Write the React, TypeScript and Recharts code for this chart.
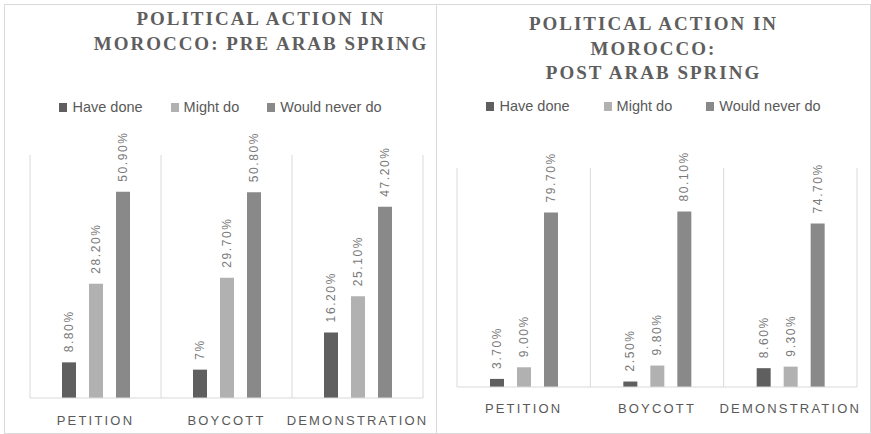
import React from 'react';
import { BarChart, Bar, XAxis, YAxis, CartesianGrid, LabelList } from 'recharts';

const actions = ['PETITION', 'BOYCOTT', 'DEMONSTRATION'];
const seriesNames = ['Have done', 'Might do', 'Would never do'];
const seriesColors = ['#5f5f5f', '#b1b1b1', '#898989'];

// shares in percent, kept as printed so the bar labels read the same
const preHaveDone = ['8.80', '7', '16.20'];
const preMightDo = ['28.20', '29.70', '25.10'];
const preNeverDo = ['50.90', '50.80', '47.20'];

const postHaveDone = ['3.70', '2.50', '8.60'];
const postMightDo = ['9.00', '9.80', '9.30'];
const postNeverDo = ['79.70', '80.10', '74.70'];

const seriesKeys = ['have', 'might', 'never'];

const buildRows = (have: string[], might: string[], never: string[]) =>
  actions.map((action, i) => ({
    action,
    have: Number(have[i]),
    might: Number(might[i]),
    never: Number(never[i]),
    haveLabel: `${have[i]}%`,
    mightLabel: `${might[i]}%`,
    neverLabel: `${never[i]}%`,
  }));

const preRows = buildRows(preHaveDone, preMightDo, preNeverDo);
const postRows = buildRows(postHaveDone, postMightDo, postNeverDo);

const TEXT = '#595959';
const LINE = '#d9d9d9';
const SANS = '"Liberation Sans", Arial, sans-serif';
const SERIF = '"Liberation Serif", "Times New Roman", serif';

const RotatedLabel = (props: any) => {
  const { x, y, width, value } = props;
  const cx = Number(x) + Number(width) / 2;
  const top = Number(y) - 10;
  return (
    <text
      transform={`translate(${cx},${top}) rotate(-90)`}
      textAnchor="start"
      dominantBaseline="central"
      fill="#7a7a7a"
      fontSize={12}
      letterSpacing={1.6}
      fontFamily={SANS}
    >
      {value}
    </text>
  );
};

const ActionTick = (props: any) => {
  const { x, y, payload, drop } = props;
  return (
    <text
      x={x}
      y={Number(y) + drop}
      textAnchor="middle"
      dominantBaseline="central"
      fill={TEXT}
      fontSize={13}
      letterSpacing={2.2}
      fontFamily={SANS}
    >
      {payload.value}
    </text>
  );
};

// one vertical rule on each side of every category band
const bandEdges = ({ offset }: any) => {
  const out: number[] = [];
  for (let i = 0; i <= actions.length; i++) {
    out.push(offset.left + (offset.width * i) / actions.length);
  }
  return out;
};

interface PanelProps {
  left: number;
  width: number;
  titleLines: string[];
  titleTop: number;
  titleShift: number;
  legendTop: number;
  legendGap: number;
  rows: ReturnType<typeof buildRows>;
  yMax: number;
  margin: { top: number; left: number; right: number };
  axisHeight: number;
  tickDrop: number;
}

const Panel: React.FC<PanelProps> = ({
  left, width, titleLines, titleTop, titleShift, legendTop, legendGap,
  rows, yMax, margin, axisHeight, tickDrop,
}) => {
  const innerW = width - 2;
  const innerH = 428;
  return (
    <div
      style={{
        position: 'absolute',
        left,
        top: 4,
        width,
        height: 430,
        boxSizing: 'border-box',
        border: `1px solid ${LINE}`,
        background: '#fff',
      }}
    >
      <BarChart
        width={innerW}
        height={innerH}
        data={rows}
        margin={{ ...margin, bottom: 0 }}
        barSize={14}
        barGap={13}
      >
        <CartesianGrid horizontal={false} stroke={LINE} verticalCoordinatesGenerator={bandEdges} />
        <XAxis
          dataKey="action"
          height={axisHeight}
          interval={0}
          tickLine={false}
          tickSize={0}
          tickMargin={0}
          axisLine={{ stroke: LINE }}
          tick={(p: any) => <ActionTick {...p} drop={tickDrop} />}
        />
        <YAxis hide domain={[0, yMax]} />
        {seriesKeys.map((key, i) => (
          <Bar key={key} dataKey={key} name={seriesNames[i]} fill={seriesColors[i]} isAnimationActive={false}>
            <LabelList dataKey={`${key}Label`} content={RotatedLabel} />
          </Bar>
        ))}
      </BarChart>
      <div
        style={{
          position: 'absolute',
          left: 0,
          top: titleTop,
          width: '100%',
          boxSizing: 'border-box',
          paddingLeft: titleShift,
          textAlign: 'center',
          fontFamily: SERIF,
          fontWeight: 'bold',
          fontSize: 19,
          lineHeight: '24.5px',
          letterSpacing: 2,
          color: '#5e5e5e',
        }}
      >
        {titleLines.map((line) => (
          <div key={line}>{line}</div>
        ))}
      </div>
      <div
        style={{
          position: 'absolute',
          left: 0,
          top: legendTop,
          width: '100%',
          display: 'flex',
          justifyContent: 'center',
          gap: legendGap,
          fontFamily: SANS,
          fontSize: 14.5,
          lineHeight: '16px',
          color: TEXT,
        }}
      >
        {seriesNames.map((name, i) => (
          <div key={name} style={{ display: 'flex', alignItems: 'center' }}>
            <span style={{ width: 8, height: 9, background: seriesColors[i], marginRight: 5, display: 'inline-block' }} />
            <span>{name}</span>
          </div>
        ))}
      </div>
    </div>
  );
};

export default function App() {
  return (
    <div style={{ position: 'absolute', left: 0, top: 0, width: 871, height: 434, background: '#fff' }}>
      <Panel
        left={4}
        width={433}
        titleLines={['POLITICAL  ACTION IN', 'MOROCCO: PRE ARAB SPRING']}
        titleTop={2}
        titleShift={81}
        legendTop={94}
        legendGap={28}
        rows={preRows}
        yMax={60}
        margin={{ top: 150, left: 25, right: 13 }}
        axisHeight={35}
        tickDrop={22}
      />
      <Panel
        left={436}
        width={435}
        titleLines={['POLITICAL  ACTION IN', 'MOROCCO:', 'POST ARAB SPRING']}
        titleTop={7}
        titleShift={0}
        legendTop={93}
        legendGap={34}
        rows={postRows}
        yMax={100}
        margin={{ top: 163, left: 20, right: 13 }}
        axisHeight={46}
        tickDrop={21}
      />
    </div>
  );
}
